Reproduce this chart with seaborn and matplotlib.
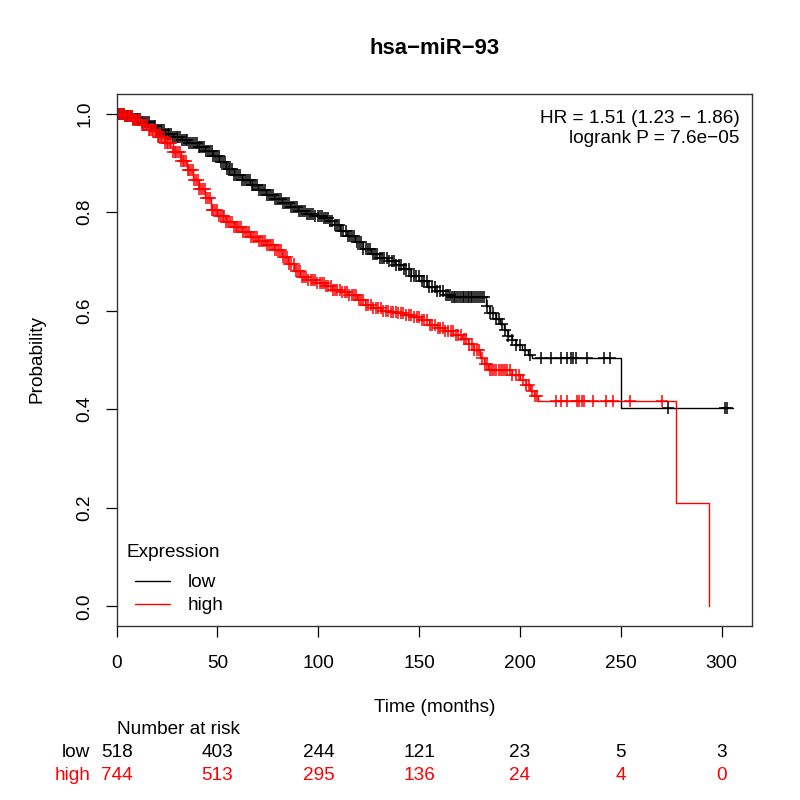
import numpy as np
import matplotlib
matplotlib.use("Agg")
import matplotlib.pyplot as plt
import matplotlib.transforms as mtransforms
import seaborn as sns

# survival steps (time in months, probability)
low_times = [0, 4, 8, 12, 16, 20, 24, 28, 32, 36, 40, 44, 48, 51, 54, 58, 62, 66, 70, 74,
             78, 82, 86, 90, 94, 98, 102, 105, 108, 111, 114, 118, 122, 126, 130, 134, 138, 142, 146, 150,
             154, 158, 162, 166, 183, 185, 188, 190, 192, 194, 196, 198, 201, 204, 206, 250, 305.7]
low_surv = [1.0, .996, .99, .984, .975, .966, .958, .952, .946, .94, .933, .924, .914, .902, .888, .876, .866, .856, .845, .834,
            .826, .818, .81, .802, .796, .792, .788, .782, .774, .762, .752, .739, .726, .715, .707, .700, .693, .684, .670, .660,
            .648, .640, .632, .627, .610, .595, .583, .574, .560, .548, .540, .530, .520, .510, .505, .403, .403]

high_times = [0, 4, 8, 12, 16, 20, 24, 28, 32, 35, 38, 41, 44, 47, 50, 54, 58, 62, 66, 70,
              74, 78, 82, 85, 88, 91, 95, 99, 103, 107, 111, 115, 119, 123, 127, 131, 135, 139, 143, 147,
              151, 155, 159, 163, 167, 171, 174, 177, 180, 182, 184, 196, 200, 203, 205, 207, 209, 277.3, 293.9]
high_surv = [1.0, .995, .988, .977, .966, .953, .94, .922, .903, .886, .866, .847, .828, .805, .792, .78, .77, .759, .75, .742,
             .734, .724, .709, .694, .68, .668, .662, .656, .651, .643, .638, .632, .622, .612, .605, .599, .597, .595, .592, .587,
             .581, .572, .564, .558, .550, .542, .532, .520, .505, .492, .480, .470, .460, .450, .437, .426, .417, .21, 0.0]

# censoring times (approximate, read from the + marks)
low_censor = [0.5, 1.2, 2, 2.8, 3.5, 4.3, 5, 5.8, 6.5, 7.4, 8.2, 9, 9.9, 10.7, 11.5, 12.4, 13.2, 14, 15, 15.8,
              16.7, 17.5, 18.4, 19.2, 20.1, 21, 21.8, 22.7, 23.6, 24.4, 25.3, 26.2, 27, 28, 28.9, 29.8, 30.6, 31.5,
              32.4, 33.3, 34.2, 35.1, 36, 37, 37.9, 38.8, 39.7, 40.6, 41.5, 42.5, 43.4, 44.3, 45.2, 46.2, 47.1, 48,
              49, 49.9, 50.8, 51.7, 52.7, 53.6, 54.5, 55.5, 56.4, 57.4, 58.3, 59.2, 60.2, 61.1, 62.1, 63, 64, 65,
              65.9, 66.9, 67.8, 68.8, 69.8, 70.7, 71.7, 72.7, 73.6, 74.6, 75.6, 76.6, 77.5, 78.5, 79.5, 80.5, 81.5,
              82.5, 83.5, 84.4, 85.4, 86.4, 87.4, 88.4, 89.5, 90.5, 91.5, 92.5, 93.5, 94.5, 95.5, 96.6, 97.6, 98.6,
              99.7, 100.7, 101.7, 102.8, 103.8, 104.9, 106, 107, 108.1, 109.2, 110.3, 111.3, 112.4, 113.5, 114.6,
              115.7, 116.8, 117.9, 119, 120.1, 121.3, 122.4, 123.5, 124.7, 125.8, 126.9, 128.1, 129.2, 130.4, 131.6,
              132.7, 133.9, 135.1, 136.3, 137.5, 138.7, 139.9, 141.1, 142.4, 143.6, 144.8, 146.1, 147.3, 148.6,
              149.9, 151.2, 152.4, 153.7, 155, 156.4, 157.7, 159, 160.4, 161.7, 163.1, 164.5, 165.4, 166.3, 167.1,
              168, 169, 170, 170.8, 171.5, 172.4, 173.1, 174, 174.8, 175.6, 176.4, 177.3, 178, 179, 180, 181, 182,
              183.5, 185, 186.5, 188, 189.5, 191, 192.5, 194, 196, 198, 200, 202.5,
              205.0, 210.3, 215.2, 220.3, 223.2, 225.1, 226.4, 227.8, 233.4, 241.6, 244.6, 273.5, 301.8, 302.4]
high_censor = [0.3, 0.9, 1.6, 2.2, 2.9, 3.5, 4.2, 4.8, 5.5, 6.2, 6.9, 7.5, 8.2, 8.9, 9.6, 10.3, 11, 11.7, 12.4,
               13.1, 13.8, 14.5, 15.2, 16, 16.7, 17.4, 18.2, 18.9, 19.6, 20.4, 21.1, 21.9, 22.6, 23.4, 24.1, 24.9,
               25.7, 26.4, 27.2, 28, 28.8, 29.6, 30.4, 31.2, 32, 32.8, 33.6, 34.4, 35.2, 36, 36.9, 37.7, 38.5, 39.4,
               40.2, 41, 41.9, 42.8, 43.6, 44.5, 45.4, 46.2, 47.1, 48, 48.9, 49.8, 50.7, 51.6, 52.5, 53.4, 54.3,
               55.2, 56.2, 57.1, 58, 59, 59.9, 60.8, 61.8, 62.7, 63.7, 64.6, 65.6, 66.6, 67.5, 68.5, 69.5, 70.5,
               71.4, 72.4, 73.4, 74.4, 75.4, 76.4, 77.4, 78.4, 79.4, 80.4, 81.5, 82.5, 83.5, 84.5, 85.6, 86.6, 87.7,
               88.7, 89.8, 90.8, 91.9, 93, 94, 95.1, 96.2, 97.3, 98.4, 99.5, 100.6, 101.7, 102.8, 103.9, 105, 106.1,
               107.3, 108.4, 109.5, 110.7, 111.8, 113, 114.1, 115.3, 116.5, 117.6, 118.8, 120, 121.2, 122.4, 123.6,
               124.8, 126, 127.2, 128.4, 129.7, 130.9, 132.1, 133.4, 134.6, 135.9, 137.1, 138.4, 139.7, 141, 142.2,
               143.5, 144.8, 146.1, 147.4, 148.7, 150, 151.3, 152.6, 153.9, 155.2, 156.5, 157.8, 159.1, 160.4,
               161.7, 163, 164.3, 165.6, 166.9, 168.2, 169.5, 170.8, 172.1, 173.4, 174.7, 176, 177.3, 178.6, 179.9,
               181.2, 182.5, 183.8, 185, 186.1, 187.2, 188.3, 189.4, 190.5, 191.6, 192.7, 193.8, 194.9, 196.2,
               197.8, 199.5, 201.3, 203, 204.5, 206, 207.4, 208.6,
               217.8, 220.2, 223.2, 228.1, 229.4, 230.6, 231.7, 236.0, 242.6, 246.3, 254.5, 270.3]

risk_ticks = [0, 50, 100, 150, 200, 250, 300]
low_risk = [518, 403, 244, 121, 23, 5, 3]
high_risk = [744, 513, 295, 136, 24, 4, 0]

groups = ["low", "high"]
colors = {"low": "black", "high": "#ff0000"}
FS = 13.7

sns.set_style("white")
plt.rcParams['font.family'] = ['Liberation Sans', 'DejaVu Sans']
plt.rcParams['axes.unicode_minus'] = True
for key in ['text.color', 'axes.labelcolor', 'xtick.color', 'ytick.color']:
    plt.rcParams[key] = 'black'

fig = plt.figure(figsize=(8, 8), dpi=100)
ax = fig.add_axes([0.1458, 0.2175, 0.7946, 0.665])


def surv_at(times, surv, t):
    idx = np.searchsorted(times, t, side='right') - 1
    return np.asarray(surv)[idx]


curves = {"low": (low_times, low_surv, low_censor),
          "high": (high_times, high_surv, high_censor)}

for g in groups:
    t, s, c = curves[g]
    sns.lineplot(x=t, y=s, ax=ax, color=colors[g], drawstyle='steps-post',
                 estimator=None, linewidth=1.0, label=g)
    cy = surv_at(t, s, c)
    ax.plot(c, cy, linestyle='none', marker='+', markersize=9.2,
            markeredgewidth=1.1, color=colors[g])

ax.set_xlim(0, 315.2)
ax.set_ylim(-0.04, 1.04)
ax.set_xticks(risk_ticks)
ax.set_yticks([0.0, 0.2, 0.4, 0.6, 0.8, 1.0])
ax.set_yticklabels(["0.0", "0.2", "0.4", "0.6", "0.8", "1.0"], rotation=90, va='center')
ax.tick_params(axis='both', direction='out', length=8, width=0.9, labelsize=FS,
               color='black', bottom=True, left=True)
ax.tick_params(axis='x', pad=13)
ax.tick_params(axis='y', pad=9)
for sp in ax.spines.values():
    sp.set_color('#333333')
    sp.set_linewidth(1.0)

ax.set_xlabel("")
ax.set_ylabel("")

fig.text(0.5431, 1 - 48.3 / 800, "hsa\u2212miR\u221293", ha='center', va='center',
         fontsize=15.9, fontweight='bold')
fig.text(0.5431, 1 - 707 / 800, "Time (months)", ha='center', va='center', fontsize=FS)
fig.text(37 / 800, 1 - 359 / 800, "Probability", ha='center', va='center', rotation=90, fontsize=FS)

ax.text(0.98, 0.97, "HR = 1.51 (1.23 \u2212 1.86)\nlogrank P = 7.6e\u221205",
        transform=ax.transAxes, ha='right', va='top', fontsize=FS, linespacing=1.2)

# legend: title drawn as its own text, entries via matplotlib legend
fig.text(126.7 / 800, 1 - 552.3 / 800, "Expression", ha='left', va='center', fontsize=FS)
leg = ax.legend(loc='lower left', bbox_to_anchor=(0.0, -0.012),
                frameon=False, fontsize=FS, handlelength=1.85,
                handletextpad=0.95, labelspacing=0.3, borderpad=0.45)

# number at risk table
trans = mtransforms.blended_transform_factory(ax.transData, fig.transFigure)
fig.text(117.3 / 800, 1 - 730 / 800, "Number at risk", ha='left', va='center', fontsize=FS)
for g, row, yy in [("low", low_risk, 752.7), ("high", high_risk, 775)]:
    fig.text(90 / 800, 1 - yy / 800, g, ha='right', va='center', fontsize=FS, color=colors[g])
    for xt, n in zip(risk_ticks, row):
        ax.text(xt, 1 - yy / 800, str(n), transform=trans, ha='center', va='center',
                fontsize=FS, color=colors[g])

fig.savefig("out.png", dpi=100)
